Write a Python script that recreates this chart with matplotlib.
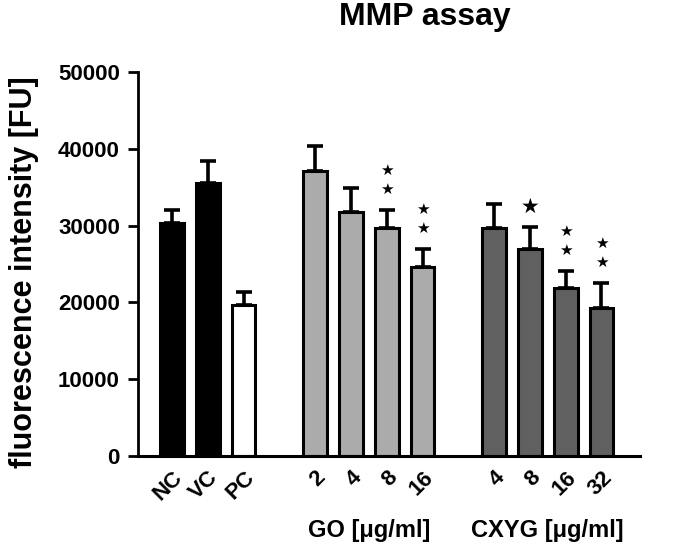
import matplotlib
matplotlib.use("Agg")
import matplotlib.pyplot as plt
import numpy as np

plt.rcParams['font.family'] = ['Liberation Sans', 'DejaVu Sans']

labels = ["NC", "VC", "PC", "2", "4", "8", "16", "4", "8", "16", "32"]
means = [30400, 35500, 19600, 37100, 31800, 29700, 24650, 29650, 27000, 21900, 19300]
errors = [1600, 2950, 1700, 3300, 3100, 2300, 2300, 3100, 2800, 2150, 3200]
stars = [0, 0, 0, 0, 0, 2, 2, 0, 1, 2, 2]
groups = ["ctrl", "ctrl", "ctrl", "GO", "GO", "GO", "GO", "CXYG", "CXYG", "CXYG", "CXYG"]
bar_colors = ["#000000", "#000000", "#ffffff",
              "#ababab", "#ababab", "#ababab", "#ababab",
              "#606060", "#606060", "#606060", "#606060"]
group_labels = ["GO [\u03bcg/ml]", "CXYG [\u03bcg/ml]"]

# positions with gaps between groups
pos = []
p = 0
prev = None
for g in groups:
    if prev is not None:
        p += 1 if g == prev else 2
    pos.append(p)
    prev = g
pos = np.array(pos, dtype=float)

fig = plt.figure(figsize=(6.85, 5.5), dpi=100)
ax = fig.add_axes([0.2015, 0.171, 0.7325, 0.698])

ax.bar(pos, means, width=0.66, color=bar_colors, edgecolor="black", linewidth=2.2, zorder=2)
ax.errorbar(pos, means, yerr=[np.zeros(len(means)), errors], fmt="none",
            ecolor="black", elinewidth=2.6, capsize=6, capthick=2.6, zorder=1)

for x, m, e, s in zip(pos, means, errors, stars):
    if s == 1:
        ax.text(x, m + e + 2600, "\u2605", ha="center", va="center", fontsize=15,
                family=["DejaVu Sans"])
    elif s == 2:
        ax.text(x, m + e + 2700, "\u2605", ha="center", va="center", fontsize=11,
                family=["DejaVu Sans"])
        ax.text(x, m + e + 5150, "\u2605", ha="center", va="center", fontsize=11,
                family=["DejaVu Sans"])

ax.set_xlim(-0.95, 13.07)
ax.set_ylim(0, 50000)
ax.set_yticks([0, 10000, 20000, 30000, 40000, 50000])
ax.set_yticklabels([str(v) for v in [0, 10000, 20000, 30000, 40000, 50000]],
                   fontsize=16, fontweight="bold")
ax.set_xticks(pos)
ax.set_xticklabels(labels, rotation=45, ha="right", rotation_mode="anchor",
                   fontsize=16, fontweight="bold")
ax.tick_params(axis="x", length=0, pad=8)
ax.tick_params(axis="y", length=7, width=2, direction="out", pad=6)

for side in ["top", "right"]:
    ax.spines[side].set_visible(False)
ax.spines["left"].set_linewidth(2)
ax.spines["bottom"].set_linewidth(2.2)

ax.set_ylabel("fluorescence intensity [FU]", fontsize=22, fontweight="bold")
ax.yaxis.set_label_coords(-0.197, 0.48)
fig.text(0.62, 0.97, "MMP assay", ha="center", va="center", fontsize=23, fontweight="bold")

go_c = pos[3:7].mean()
cx_c = pos[7:11].mean()
ax.text(go_c, -0.195, group_labels[0], transform=ax.get_xaxis_transform(),
        ha="center", va="center", fontsize=17, fontweight="bold")
ax.text(cx_c, -0.195, group_labels[1], transform=ax.get_xaxis_transform(),
        ha="center", va="center", fontsize=17, fontweight="bold")

fig.savefig("out.png", dpi=100)
